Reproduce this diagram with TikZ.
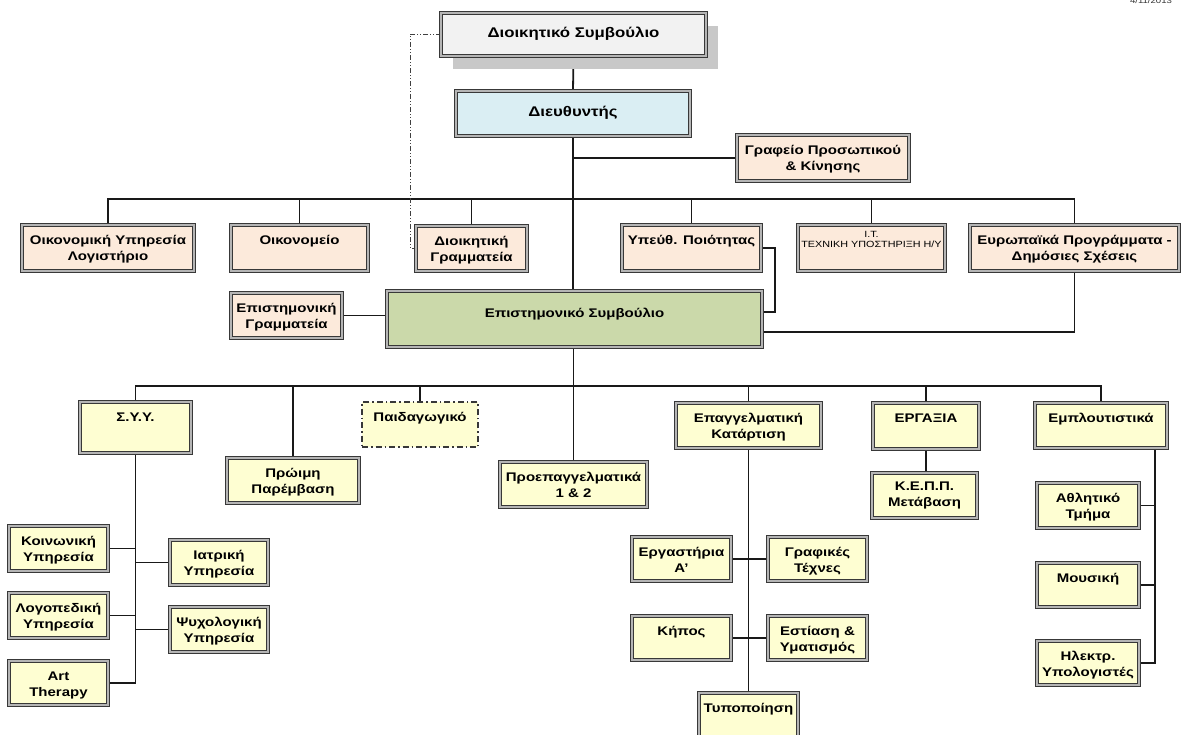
\documentclass[tikz,border=0pt]{standalone}
\usepackage{fontspec}
\setmainfont{Liberation Sans}[FakeStretch=1.2]
\usetikzlibrary{shadows}
\pgfdeclarelayer{background}
\pgfsetlayers{background,main}
\definecolor{bordc}{HTML}{383838}
\definecolor{dblc}{HTML}{B5B5B5}
\definecolor{topf}{HTML}{F2F2F2}
\definecolor{blueF}{HTML}{DAEEF3}
\definecolor{peach}{HTML}{FCEADB}
\definecolor{greenF}{HTML}{CBD9AA}
\definecolor{yel}{HTML}{FEFED2}
\definecolor{shad}{HTML}{C8C8C8}
\tikzset{
  obox/.style={draw=bordc, line width=1.1pt, double=dblc, double distance=1.4pt,
    inner sep=0pt, outer sep=0pt, font=\fontsize{12.5}{16}\selectfont\bfseries},
  pbox/.style={draw=bordc, line width=1.3pt, dash pattern=on 6pt off 3pt on 1.5pt off 3pt,
    inner sep=0pt, outer sep=0pt, fill=yel, font=\fontsize{12.5}{16}\selectfont\bfseries},
  bigfont/.style={font=\fontsize{14}{17}\selectfont\bfseries},
  smallfont/.style={font=\fontsize{9}{10}\selectfont},
  conn/.style={draw=black!90, line width=1.8pt},
  ddash/.style={draw=black!75, line width=0.9pt,
    dash pattern=on 5pt off 2pt on 1pt off 2pt on 1pt off 2pt},
}
% top-aligned box: [vspace]{name}{style}{x}{y}{w}{h}{text}
\newcommand\tbox[8][8]{\node[#3,anchor=north west,minimum width=#6pt,minimum height=#7pt] (#2) at (#4,#5)
  {\parbox[c][#7pt][t]{#6pt}{\centering\vspace*{#1pt}\strut #8}};}
% vertically centred box: {name}{style}{x}{y}{w}{h}{text}
\newcommand\cbox[7]{\node[#2,anchor=north west,minimum width=#5pt,minimum height=#6pt] (#1) at (#3,#4)
  {\parbox[c][#6pt][c]{#5pt}{\centering\strut #7}};}
\begin{document}
\begin{tikzpicture}[x=1pt,y=-1pt]
\useasboundingbox (0,0) rectangle (1184,735);

\node[font=\fontsize{8}{9}\selectfont, anchor=base, text=black!80] (date) at (1151,4) {4/11/2013};

% top level
\cbox{dsym}{obox,bigfont,fill=topf,drop shadow={shadow xshift=12pt,shadow yshift=-13pt,fill=shad,opacity=1}}{441}{13}{265}{43}{Διοικητικό Συμβούλιο}
\cbox{dieu}{obox,bigfont,fill=blueF}{456}{91}{234}{45}{Διευθυντής}
\tbox{graf}{obox,fill=peach}{737}{135}{172}{46}{Γραφείο Προσωπικού\\\& Κίνησης}

% row 2
\tbox{oikyp}{obox,fill=peach}{22}{225}{172}{46}{Οικονομική Υπηρεσία\\Λογιστήριο}
\tbox{oikon}{obox,fill=peach}{231}{225}{137}{46}{Οικονομείο}
\tbox{diogr}{obox,fill=peach}{416}{226}{111}{45}{Διοικητική\\Γραμματεία}
\tbox{ypeuth}{obox,fill=peach}{622}{225}{139}{46}{Υπεύθ. Ποιότητας}
\tbox[6]{it}{obox,smallfont,fill=peach}{798}{225}{147}{46}{I.T.\\ΤΕΧΝΙΚΗ ΥΠΟΣΤΗΡΙΞΗ Η/Υ}
\tbox{euro}{obox,fill=peach}{970}{225}{209}{46}{Ευρωπαϊκά Προγράμματα -\\Δημόσιες Σχέσεις}

% scientific council
\tbox[15]{episym}{obox,fill=greenF}{387}{291}{375}{56}{Επιστημονικό Συμβούλιο}
\tbox{epigr}{obox,fill=peach}{231}{293}{111}{45}{Επιστημονική\\Γραμματεία}

% row 3
\tbox{sys}{obox,fill=yel}{80}{402}{111}{51}{Σ.Υ.Υ.}
\tbox{proim}{obox,fill=yel}{227}{458}{132}{45}{Πρώιμη\\Παρέμβαση}
\tbox{paid}{pbox}{362}{402}{116}{45}{Παιδαγωγικό}
\tbox{proep}{obox,fill=yel}{500}{462}{147}{45}{Προεπαγγελματικά\\1 \& 2}
\tbox{epag}{obox,fill=yel}{676}{403}{145}{45}{Επαγγελματική\\Κατάρτιση}
\tbox{ergasia}{obox,fill=yel}{873}{403}{106}{46}{ΕΡΓΑΞΙΑ}
\tbox{emplout}{obox,fill=yel}{1035}{403}{132}{45}{Εμπλουτιστικά}
\tbox[6]{kepp}{obox,fill=yel}{872}{473}{105}{45}{Κ.Ε.Π.Π.\\Μετάβαση}
\tbox{athl}{obox,fill=yel}{1037}{483}{102}{45}{Αθλητικό\\Τμήμα}
\tbox{mous}{obox,fill=yel}{1037}{563}{102}{44}{Μουσική}
\tbox{ilek}{obox,fill=yel}{1037}{641}{102}{44}{Ηλεκτρ.\\Υπολογιστές}

% left branch
\tbox{koin}{obox,fill=yel}{9}{526}{99}{45}{Κοινωνική\\Υπηρεσία}
\tbox{iatr}{obox,fill=yel}{170}{540}{98}{45}{Ιατρική\\Υπηρεσία}
\tbox{logo}{obox,fill=yel}{9}{593}{99}{45}{Λογοπεδική\\Υπηρεσία}
\tbox{psyx}{obox,fill=yel}{170}{607}{98}{45}{Ψυχολογική\\Υπηρεσία}
\tbox{art}{obox,fill=yel}{9}{661}{99}{44}{Art\\Therapy}

% vocational branch
\tbox{ergast}{obox,fill=yel}{632}{537}{99}{44}{Εργαστήρια\\Α’}
\tbox{grafik}{obox,fill=yel}{768}{537}{99}{44}{Γραφικές\\Τέχνες}
\tbox{kipos}{obox,fill=yel}{632}{616}{99}{44}{Κήπος}
\tbox{estia}{obox,fill=yel}{768}{616}{99}{44}{Εστίαση \&\\Υματισμός}
\tbox{typo}{obox,fill=yel}{699}{693}{99}{44}{Τυποποίηση}

% coordinates
\coordinate (b1) at (0,199);
\coordinate (b2) at (0,386);
\coordinate (qy) at (775,312);
\coordinate (ey) at (0,332);
\coordinate (dd) at (410,0);
\coordinate (rv) at (1155,0);

\begin{pgfonlayer}{background}
\fill[white] (0,0) rectangle (1184,735);
% trunk
\draw[conn] (dsym.south) -- (dieu.north);
\draw[conn] (dieu.south) -- (dieu.south |- episym.north);
\draw[conn] (dieu.south |- graf.west) -- (graf.west);
% bus 1
\draw[conn] (oikyp.north) -- (oikyp.north |- b1) -- (euro.north |- b1) -- (euro.north);
\draw[conn] (oikon.north) -- (oikon.north |- b1);
\draw[conn] (diogr.north) -- (diogr.north |- b1);
\draw[conn] (ypeuth.north) -- (ypeuth.north |- b1);
\draw[conn] (it.north) -- (it.north |- b1);
% scientific council links
\draw[conn] (epigr.east) -- (epigr.east -| episym.west);
\draw[conn] (ypeuth.east) -| (qy) -- (qy -| episym.east);
\draw[conn] (euro.south) -- (euro.south |- ey) -- (episym.east |- ey);
% dash-dot link
\draw[ddash] (dsym.west) -- (dsym.west -| dd) -- (dd |- diogr.west) -- (diogr.west);
% bus 2
\draw[conn] (proep.north |- episym.south) -- (proep.north);
\draw[conn] (sys.north) -- (sys.north |- b2) -- (emplout.north |- b2) -- (emplout.north);
\draw[conn] (proim.north) -- (proim.north |- b2);
\draw[conn] (paid.north) -- (paid.north |- b2);
\draw[conn] (epag.north) -- (epag.north |- b2);
\draw[conn] (ergasia.north) -- (ergasia.north |- b2);
% left branch
\draw[conn] (sys.south) -- (sys.south |- art.east) -- (art.east);
\draw[conn] (koin.east) -- (koin.east -| sys.south);
\draw[conn] (logo.east) -- (logo.east -| sys.south);
\draw[conn] (iatr.west) -- (iatr.west -| sys.south);
\draw[conn] (psyx.west) -- (psyx.west -| sys.south);
% ergasia
\draw[conn] (ergasia.south) -- (kepp.north -| ergasia.south);
% vocational
\draw[conn] (epag.south) -- (typo.north -| epag.south);
\draw[conn] (ergast.east) -- (grafik.west |- ergast.east);
\draw[conn] (kipos.east) -- (estia.west |- kipos.east);
% enrichment
\draw[conn] (rv |- emplout.south) -- (rv |- ilek.east) -- (ilek.east);
\draw[conn] (athl.east) -- (athl.east -| rv);
\draw[conn] (mous.east) -- (mous.east -| rv);
\end{pgfonlayer}
\end{tikzpicture}
\end{document}
